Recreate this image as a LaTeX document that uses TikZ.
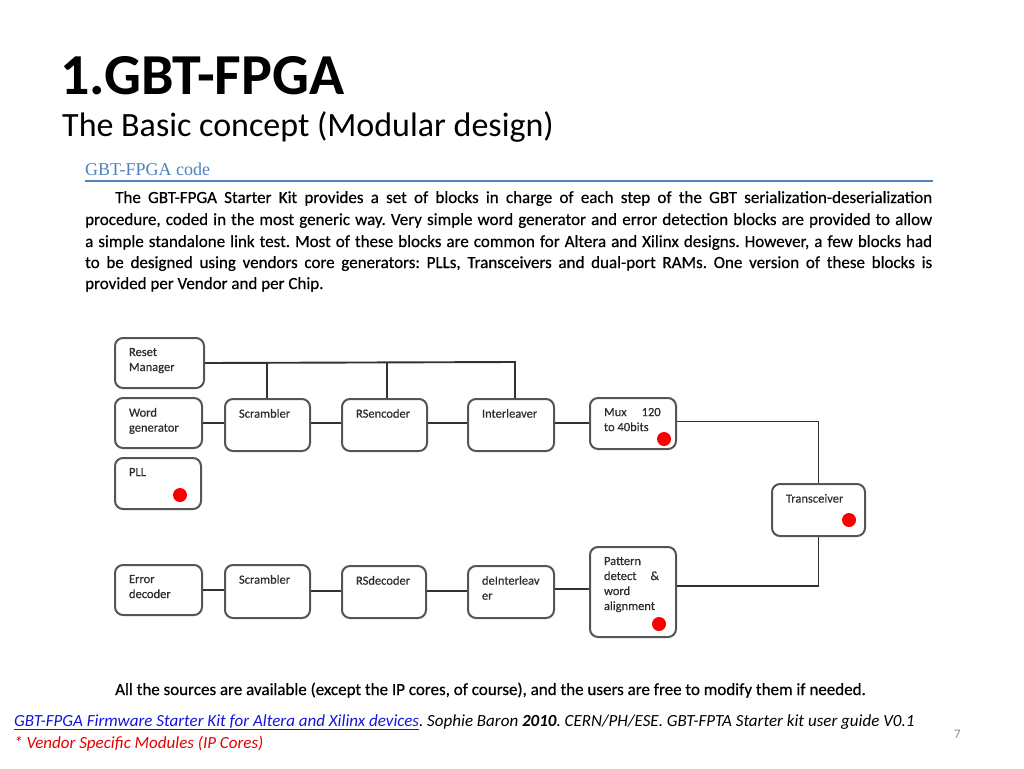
\documentclass[tikz,border=0pt]{standalone}
\usepackage{fontspec}
\setmainfont{Carlito}
\newfontfamily\hfont{Liberation Serif}
\newfontfamily\dfont[FakeBold=0.5]{Carlito}
\definecolor{boxc}{RGB}{85,85,85}
\definecolor{linec}{RGB}{50,50,50}
\definecolor{txtc}{RGB}{45,45,45}
\definecolor{headblue}{RGB}{79,129,189}
\definecolor{linkblue}{RGB}{20,20,220}
\definecolor{dotred}{RGB}{250,0,0}
\definecolor{fred}{RGB}{230,0,0}
\definecolor{pgray}{RGB}{140,140,140}
\newcommand\blk[6]{\node[blk] (#1) at (#2,#3) {\parbox[c][#5pt][t]{#4pt}{\raggedright\leftskip=14pt\relax\vspace*{10pt}#6}};}
\frenchspacing
\begin{document}
\begin{tikzpicture}[x=1pt,y=-1pt,
  blk/.style={draw=boxc,line width=2pt,rounded corners=8pt,inner sep=0pt,anchor=north west,text=txtc,font=\dfont\fontsize{12.5}{15}\selectfont},
  conn/.style={draw=linec,line width=1.9pt},
  vdot/.style={circle,fill=dotred,minimum size=14pt,inner sep=0pt},
  ptxt/.style={anchor=base west,inner sep=0pt,font=\dfont\fontsize{17}{20}\selectfont,text=black}]
\useasboundingbox (0,0) rectangle (1024,768);
% titles
\node[anchor=base west,inner sep=0pt,font=\bfseries\fontsize{58}{60}\selectfont] (title) at (60,94) {1.GBT-FPGA};
\node[anchor=base west,inner sep=0pt,font=\fontsize{34}{38}\selectfont] (subtitle) at (62,136) {The Basic concept (Modular design)};
% document excerpt
\node[anchor=base west,inner sep=0pt,font=\hfont\fontsize{18}{20}\selectfont,text=headblue] (head) at (85,175) {GBT-FPGA code};
\coordinate (r1) at (85,181);
\coordinate (r2) at (933,181);
\draw[headblue,line width=2pt] (r1) -- (r2);
\node[ptxt] (p1) at (115,203) {\makebox[817pt][s]{The GBT-FPGA Starter Kit provides a set of blocks in charge of each step of the GBT serialization-deserialization}};
\node[ptxt] (p2) at (85,225) {\makebox[847pt][s]{procedure, coded in the most generic way. Very simple word generator and error detection blocks are provided to allow}};
\node[ptxt] (p3) at (85,247) {\makebox[847pt][s]{a simple standalone link test. Most of these blocks are common for Altera and Xilinx designs. However, a few blocks had}};
\node[ptxt] (p4) at (85,268) {\makebox[847pt][s]{to be designed using vendors core generators: PLLs, Transceivers and dual-port RAMs. One version of these blocks is}};
\node[ptxt] (p5) at (85,289) {provided per Vendor and per Chip.};
% blocks
\blk{rm}{114}{337}{89}{50}{Reset\\Manager}
\blk{wg}{114}{397}{87}{50}{Word\\generator}
\blk{pll}{114}{457}{86}{51}{PLL}
\blk{sc1}{224}{398}{85}{52}{Scrambler}
\blk{rse}{341}{398}{85}{52}{RSencoder}
\blk{il}{467}{398}{86}{52}{Interleaver}
\blk{mux}{589}{397}{86}{51}{Mux\hspace{15pt}120\\to 40bits}
\blk{tr}{771}{483}{93}{52}{Transceiver}
\blk{ed}{114}{564}{87}{50}{Error\\decoder}
\blk{sc2}{224}{564}{85}{53}{Scrambler}
\blk{rsd}{341}{565}{84}{52}{RSdecoder}
\blk{dil}{467}{565}{86}{52}{deInterleav\\er}
\blk{pd}{589}{546}{86}{90}{Pattern\\detect\hspace{14pt}\&\\word\\alignment}
% vendor dots
\node[vdot] (d1) at (180,495) {};
\node[vdot] (d2) at (664,439) {};
\node[vdot] (d3) at (849,520) {};
\node[vdot] (d4) at (659,624) {};
% reset distribution
\coordinate (j1) at (267,362);
\coordinate (j2) at (387,362);
\coordinate (j3) at (515,362);
\draw[conn] (rm.east) -- (j3) -- (j3 |- il.north);
\draw[conn] (j1) -- (j1 |- sc1.north);
\draw[conn] (j2) -- (j2 |- rse.north);
% transmit chain
\coordinate (wge) at (wg.east);
\coordinate (sce) at ([yshift=2pt]sc1.east);
\coordinate (rsee) at ([yshift=2pt]rse.east);
\coordinate (ile) at ([yshift=2pt]il.east);
\coordinate (muxe) at ([yshift=2pt]mux.east);
\draw[conn] (wge) -- (wge -| sc1.west);
\draw[conn] (sce) -- (sce -| rse.west);
\draw[conn] (rsee) -- (rsee -| il.west);
\draw[conn] (ile) -- (ile -| mux.west);
\draw[conn] (muxe) -- (muxe -| tr.north) -- (tr.north);
% receive chain
\coordinate (pde) at ([yshift=6pt]pd.east);
\coordinate (pdw) at ([yshift=3pt]pd.west);
\coordinate (dilw) at ([yshift=1pt]dil.west);
\coordinate (rsdw) at ([yshift=1pt]rsd.west);
\draw[conn] (tr.south) -- (tr.south |- pde) -- (pde);
\draw[conn] (pdw) -- (pdw -| dil.east);
\draw[conn] (dilw) -- (dilw -| rsd.east);
\draw[conn] (rsdw) -- (rsdw -| sc2.east);
\draw[conn] (sc2.west |- ed.east) -- (ed.east);
% bottom texts
\node[ptxt] (allsrc) at (115,695) {All the sources are available (except the IP cores, of course), and the users are free to modify them if needed.};
\node[anchor=base west,inner sep=0pt,font=\itshape\fontsize{17}{20}\selectfont] (ref) at (14,726) {\textcolor{linkblue}{\underline{GBT-FPGA Firmware Starter Kit for Altera and Xilinx devices}}. Sophie Baron \textbf{2010}. CERN/PH/ESE. GBT-FPTA Starter kit user guide V0.1};
\node[anchor=base west,inner sep=0pt,font=\itshape\fontsize{17}{20}\selectfont,text=fred] (note) at (14,748) {* Vendor Specific Modules (IP Cores)};
\node[anchor=base west,inner sep=0pt,font=\fontsize{13}{15}\selectfont,text=pgray] (pg) at (954,738) {7};
\end{tikzpicture}
\end{document}
